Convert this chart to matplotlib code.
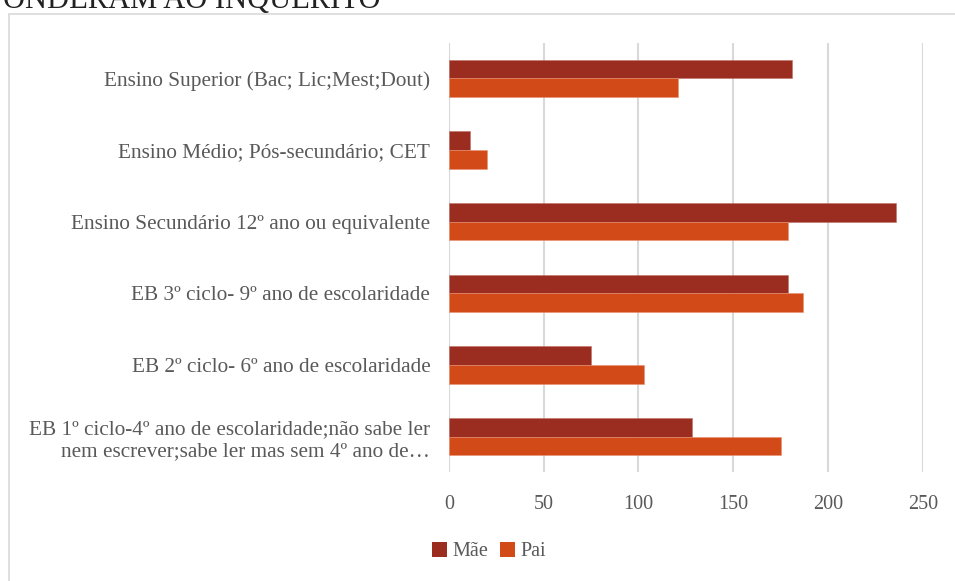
import matplotlib
matplotlib.use("Agg")
import matplotlib.pyplot as plt
from matplotlib.patches import Rectangle, Patch

categories = [
    "EB 1º ciclo-4º ano de escolaridade;não sabe ler\nnem escrever;sabe ler mas sem 4º ano de…",
    "EB 2º ciclo- 6º ano de escolaridade",
    "EB 3º ciclo- 9º ano de escolaridade",
    "Ensino Secundário 12º ano ou equivalente",
    "Ensino Médio; Pós-secundário; CET",
    "Ensino Superior (Bac; Lic;Mest;Dout)",
]
mae = [128, 75, 179, 236, 11, 181]
pai = [175, 103, 187, 179, 20, 121]
series_names = ["Mãe", "Pai"]
title_text = "ONDERAM AO INQUÉRITO"

COLOR_MAE = "#9B2D20"
COLOR_PAI = "#D24A18"
TEXT_GRAY = "#595959"
GRID_GRAY = "#D9D9D9"

plt.rcParams["font.family"] = ["Liberation Serif", "DejaVu Serif"]

W, H = 955, 581
fig = plt.figure(figsize=(W / 100, H / 100), dpi=100)

# outer chart frame (cut off at right and bottom)
fig.patches.append(Rectangle((8.5 / W, -0.1), 2, 1 - 13.5 / H + 0.1,
                             transform=fig.transFigure, fill=False,
                             edgecolor=GRID_GRAY, linewidth=1.2))

# clipped heading above the chart
fig.text(3 / W, 1 - 8 / H, title_text, fontsize=22, color="#222222",
         ha="left", va="baseline")

ax = fig.add_axes([449 / W, 1 - 472.3 / H, (922.7 - 449) / W, (472.3 - 42.7) / H])

y = list(range(len(categories)))
h = 0.26
ax.barh([v + h / 2 for v in y], mae, height=h, color=COLOR_MAE,
        edgecolor="#C07068", linewidth=0.4, zorder=3)
ax.barh([v - h / 2 for v in y], pai, height=h, color=COLOR_PAI,
        edgecolor="#E89070", linewidth=0.4, zorder=3)

ax.set_xlim(0, 250)
ax.set_ylim(-0.5, len(categories) - 0.5)
ax.set_xticks([0, 50, 100, 150, 200, 250])
ax.set_yticks(y)
ax.set_yticklabels(categories, fontsize=15.3, color=TEXT_GRAY, linespacing=1.25)
ax.tick_params(axis="x", labelsize=14.5, labelcolor=TEXT_GRAY, length=0, pad=16)
ax.tick_params(axis="y", length=0, pad=13.5)
ax.xaxis.grid(True, color=GRID_GRAY, linewidth=1.5, zorder=0)
ax.set_axisbelow(True)
for s in ax.spines.values():
    s.set_visible(False)
ax.axvline(0, color=GRID_GRAY, linewidth=1.5, zorder=1)

handles = [Patch(facecolor=COLOR_MAE), Patch(facecolor=COLOR_PAI)]
fig.legend(handles, series_names, loc="center left",
           bbox_to_anchor=(432 / W, 1 - 551.7 / H), ncol=2, frameon=False,
           fontsize=14.5, labelcolor=TEXT_GRAY, handlelength=0.75,
           handleheight=0.75, handletextpad=0.25, columnspacing=0.6,
           borderaxespad=0, borderpad=0)

fig.savefig("out.png", dpi=100)
plt.close(fig)
